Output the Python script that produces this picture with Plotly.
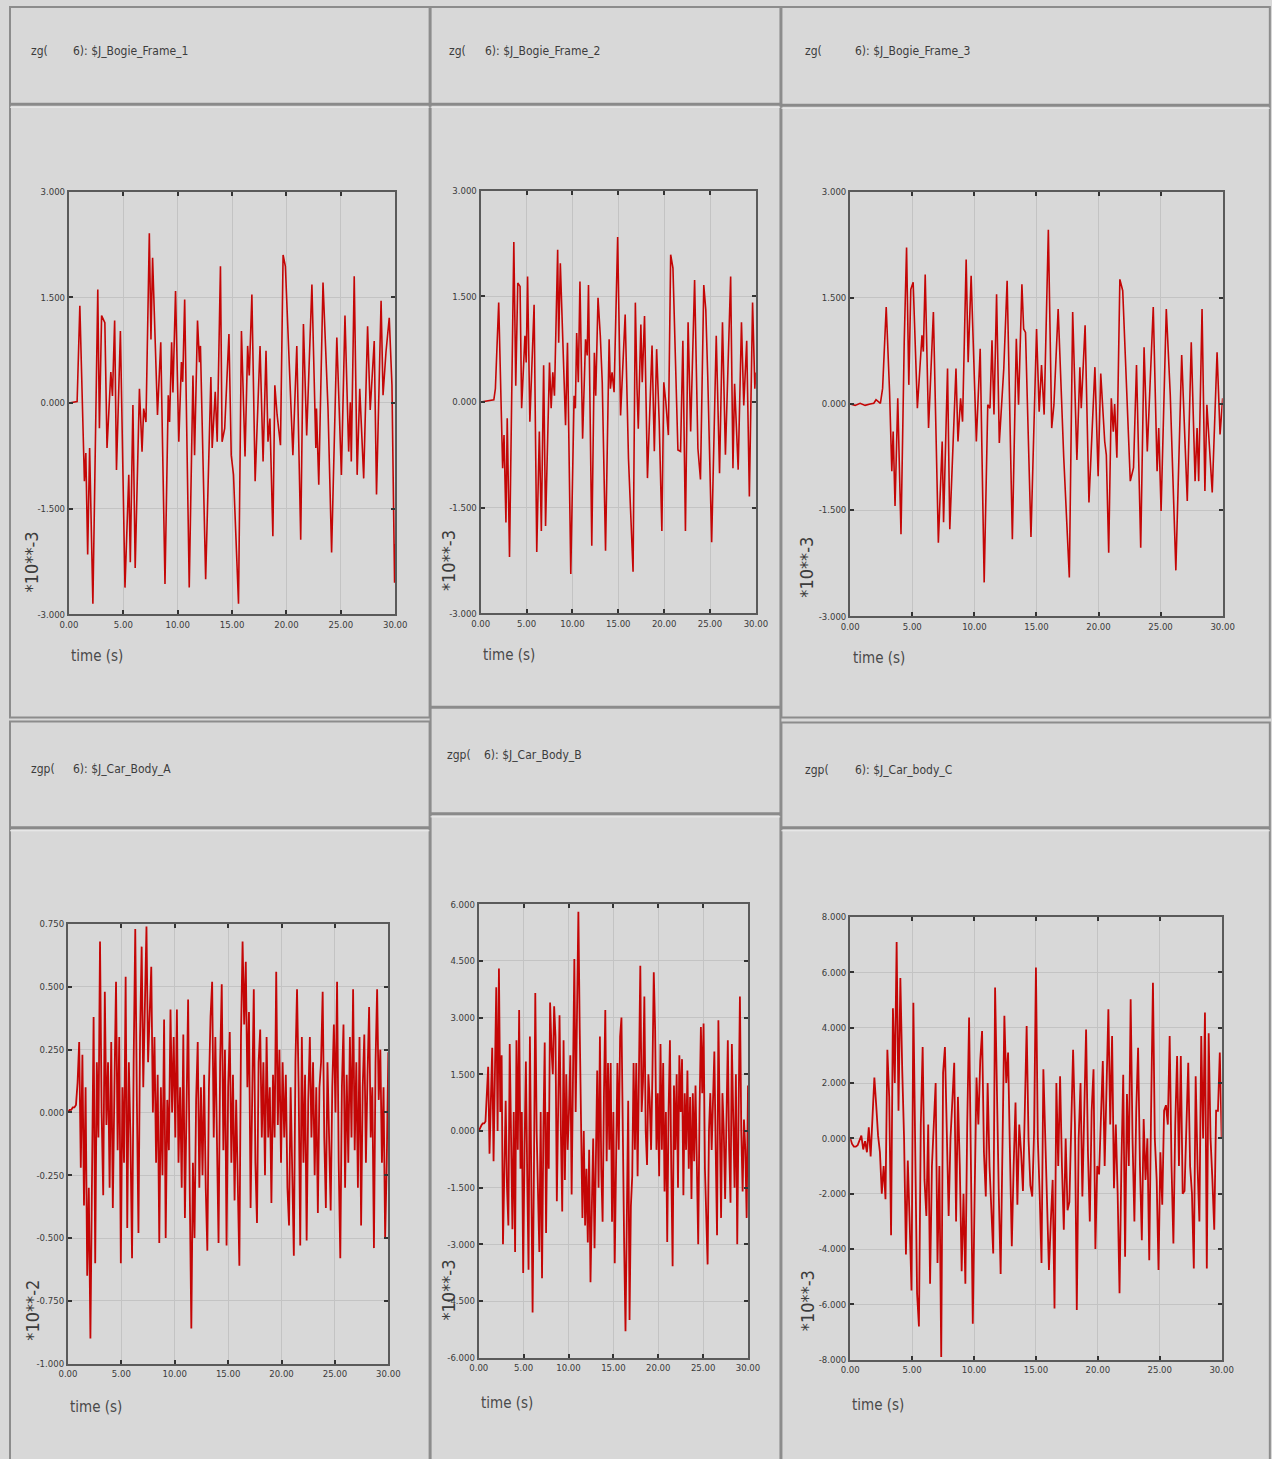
import plotly.graph_objects as go

# The page body keeps an 8 px margin, so the figure is made 16 px smaller
# and every reference pixel position is shifted by that margin.
PAGE_W, PAGE_H = 1288, 1475
OFF = 8
W, H = PAGE_W - 2 * OFF, PAGE_H - 2 * OFF

# ---------------- data ----------------
# Bogie frames: turning points (time s, value *10**-3)
bf1_t = [0.0, 0.75, 1.0, 1.42, 1.55, 1.72, 1.9, 2.2, 2.65, 2.8, 3.0, 3.3, 3.5, 3.85, 4.0, 4.2, 4.37, 4.73, 5.15, 5.5, 5.64, 5.88, 6.09, 6.48, 6.72, 6.87, 7.08, 7.39, 7.54, 7.69, 8.14, 8.44, 8.83, 9.13, 9.25, 9.44, 9.56, 9.8, 10.1, 10.34, 10.46, 10.64, 11.06, 11.4, 11.55, 11.82, 12.0, 12.09, 12.57, 12.81, 13.05, 13.17, 13.45, 13.63, 13.93, 14.08, 14.32, 14.71, 14.92, 15.13, 15.59, 15.86, 16.19, 16.43, 16.58, 16.82, 17.12, 17.57, 17.85, 18.12, 18.3, 18.48, 18.75, 18.93, 19.14, 19.45, 19.69, 19.9, 20.59, 20.95, 21.31, 21.56, 21.86, 22.34, 22.7, 22.76, 22.97, 23.36, 23.82, 24.15, 24.63, 25.05, 25.38, 25.72, 25.87, 25.96, 26.23, 26.5, 26.74, 27.1, 27.46, 27.7, 28.07, 28.28, 28.7, 28.88, 29.15, 29.45, 29.7, 29.94, 30.0]
bf1_v = [0.0, 0.02, 1.38, -1.11, -0.71, -2.15, -0.64, -2.85, 1.61, -0.36, 1.24, 1.14, -0.64, 0.44, 0.1, 1.17, -0.95, 1.02, -2.62, -1.02, -2.26, -0.03, -2.34, 0.2, -0.69, -0.08, -0.27, 2.41, 0.9, 2.06, -0.17, 0.86, -2.57, 0.11, -0.27, 0.86, 0.15, 1.59, -0.55, 0.58, 0.3, 1.47, -2.62, 0.39, -0.74, 1.17, 0.58, 0.81, -2.5, -1.02, 0.37, -0.64, 0.16, -0.55, 1.94, -0.55, -0.36, 0.98, -0.74, -1.02, -2.85, 1.02, -0.76, 0.81, 0.39, 1.54, -1.11, 0.81, -0.83, 0.74, -0.55, -0.22, -1.89, 0.25, -0.17, -0.6, 2.1, 1.94, -0.74, 0.81, -1.94, 1.12, -0.46, 1.68, -0.64, -0.08, -1.16, 1.71, -0.08, -2.12, 0.93, -1.02, 1.24, -0.69, 0.01, -0.83, 1.8, -1.02, 0.2, -1.07, 1.09, -0.1, 0.88, -1.3, 1.45, 0.11, 0.72, 1.21, 0.25, -2.55, -2.0]

bf2_t = [0.0, 1.43, 1.6, 1.96, 2.39, 2.54, 2.75, 2.89, 3.14, 3.61, 3.82, 4.04, 4.29, 4.46, 4.82, 4.96, 5.11, 5.36, 5.82, 6.11, 6.39, 6.61, 6.86, 7.07, 7.5, 7.68, 7.86, 8.04, 8.39, 8.5, 8.68, 9.25, 9.46, 9.82, 10.18, 10.32, 10.46, 10.64, 10.82, 11.11, 11.43, 11.61, 11.75, 12.11, 12.39, 12.54, 12.79, 13.04, 13.25, 13.61, 14.0, 14.14, 14.32, 14.54, 14.93, 15.25, 15.75, 16.11, 16.61, 16.86, 17.04, 17.18, 17.46, 17.61, 17.86, 18.18, 18.68, 18.93, 19.18, 19.46, 19.75, 19.96, 20.18, 20.46, 20.71, 20.96, 21.5, 21.79, 22.04, 22.32, 22.61, 22.89, 23.32, 23.68, 23.96, 24.32, 24.54, 24.75, 25.18, 25.68, 26.04, 26.36, 26.68, 26.89, 27.25, 27.5, 27.68, 28.07, 28.43, 28.68, 29.0, 29.29, 29.64, 29.89, 30.0]
bf2_v = [0.0, 0.03, 0.19, 1.41, -0.94, -0.47, -1.71, -0.23, -2.2, 2.27, 0.23, 1.69, 1.64, -0.09, 0.94, 0.56, 1.78, -0.28, 1.38, -2.13, -0.42, -1.83, 0.52, -1.76, 0.56, -0.09, 0.42, 0.09, 2.16, 0.84, 1.97, -0.33, 0.84, -2.44, 0.09, -0.09, 0.98, 0.28, 1.71, -0.52, 0.89, 0.66, 1.66, -2.04, 0.7, 0.09, 1.48, 0.94, 0.28, -2.11, 0.89, 0.19, 0.42, 0.14, 2.34, -0.19, 1.24, -0.8, -2.41, 1.41, 0.19, -0.38, 1.1, 0.28, 1.22, -1.08, 0.8, -0.7, 0.75, -0.28, -1.83, 0.28, 0.0, -0.47, 2.09, 1.9, -0.68, -0.7, 0.87, -1.83, 1.13, -0.42, 1.73, -0.66, -1.1, 1.66, 1.31, 0.38, -1.99, 0.94, -1.01, 1.13, -0.75, 0.07, 1.78, -0.94, 0.26, -0.96, 1.13, -0.05, 0.87, -1.34, 1.41, 0.19, 0.42]

bf3_t = [0.0, 0.4, 0.8, 1.2, 1.6, 1.9, 2.08, 2.3, 2.43, 2.61, 2.9, 3.17, 3.35, 3.46, 3.61, 3.83, 4.09, 4.35, 4.54, 4.72, 4.88, 5.07, 5.41, 5.78, 5.89, 6.04, 6.31, 6.7, 7.1, 7.41, 7.52, 7.84, 8.02, 8.52, 8.68, 8.89, 9.05, 9.34, 9.5, 9.74, 10.16, 10.47, 10.79, 11.08, 11.26, 11.42, 11.58, 11.79, 12.01, 12.37, 12.64, 13.06, 13.38, 13.56, 13.83, 13.97, 14.12, 14.56, 15.01, 15.22, 15.41, 15.62, 15.96, 16.23, 16.41, 16.75, 17.2, 17.65, 17.92, 18.26, 18.5, 18.61, 18.92, 19.23, 19.71, 19.97, 20.18, 20.5, 20.63, 20.82, 21.03, 21.19, 21.3, 21.48, 21.72, 21.95, 22.56, 22.82, 23.06, 23.4, 23.67, 23.93, 24.2, 24.41, 24.72, 24.85, 25.04, 25.46, 25.78, 26.23, 26.7, 27.15, 27.47, 27.78, 27.94, 28.07, 28.34, 28.57, 28.73, 28.89, 29.16, 29.55, 29.79, 30.0]
bf3_v = [0.0, -0.02, 0.01, -0.02, 0.0, 0.01, 0.06, 0.03, 0.01, 0.22, 1.37, 0.17, -0.95, -0.39, -1.44, 0.08, -1.84, 0.87, 2.21, 0.27, 1.62, 1.72, -0.06, 0.97, 0.74, 1.83, -0.34, 1.3, -1.96, -0.53, -1.67, 0.5, -1.77, 0.5, -0.53, 0.08, -0.25, 2.04, 0.59, 1.81, -0.53, 0.78, -2.52, -0.01, -0.06, 0.9, -0.15, 1.55, -0.55, 0.5, 1.74, -1.91, 0.92, -0.01, 1.69, 1.06, 1.01, -1.88, 1.06, -0.11, 0.55, -0.15, 2.46, -0.34, -0.01, 1.34, -0.76, -2.45, 1.3, -0.79, 0.52, -0.06, 1.11, -1.39, 0.52, -1.02, 0.43, -0.53, -0.72, -2.1, 0.08, -0.39, 0.0, -0.76, 1.76, 1.6, -1.09, -0.9, 0.55, -2.03, 0.8, -0.67, 0.45, 1.37, -0.95, -0.34, -1.51, 1.34, 0.13, -2.35, 0.69, -1.37, 0.87, -1.09, -0.34, -1.09, 1.34, -1.23, -0.01, -0.53, -1.25, 0.73, -0.43, 0.08]

# Car bodies: samples every 0.15 s from 0 to 30 s
cb_a = [0, 0.01, 0.01, 0.02, 0.02, 0.03, 0.12, 0.28, -0.22, 0.23, -0.37, 0.1, -0.65, -0.3, -0.9, -0.2, 0.38, -0.6, 0.2, -0.1,
        0.68, 0.0, -0.33, 0.48, -0.05, 0.2, -0.3, 0.28, -0.38, 0.1,
        0.52, -0.15, 0.3, -0.6, 0.1, -0.2, 0.54, -0.46, 0.2, -0.1,
        -0.58, 0.2, 0.73, 0.05, -0.48, 0.3, 0.66, 0.1, 0.45, 0.74,
        0.2, 0.4, 0.58, 0.0, 0.3, -0.2, 0.15, -0.52, 0.1, -0.25,
        0.37, -0.5, 0.05, -0.15, 0.41, 0.0, 0.3, -0.1, 0.41, -0.2,
        0.1, -0.3, 0.31, -0.42, 0.1, 0.45, -0.3, -0.86, -0.2, -0.5,
        0.05, 0.28, -0.3, 0.1, -0.25, 0.15, -0.3, -0.55, 0.1, 0.38,
        0.52, -0.1, 0.3, -0.2, -0.52, 0.2, 0.51, -0.15, 0.25, -0.53,
        0.1, 0.32, -0.2, 0.15, -0.35, 0.05, -0.3, -0.61, 0.3, 0.68,
        0.35, 0.6, 0.1, 0.4, -0.38, 0.1, 0.49, -0.2, -0.44, 0.2,
        0.33, -0.1, 0.2, -0.25, 0.3, -0.1, 0.1, -0.36, 0.15, -0.1,
        0.56, -0.05, 0.25, -0.2, 0.2, -0.1, 0.15, -0.3, -0.45, 0.1,
        -0.2, -0.57, 0.2, 0.49, 0.1, -0.53, 0.3, -0.2, 0.15, -0.51,
        0.05, 0.3, -0.1, 0.2, -0.25, 0.1, -0.4, 0.1, 0.2, 0.48,
        -0.1, -0.38, 0.2, -0.1, -0.39, 0.1, 0.35, 0.0, 0.52, -0.2,
        -0.58, 0.1, 0.35, -0.3, 0.15, -0.2, 0.3, -0.1, 0.49, -0.15,
        0.2, -0.3, 0.3, -0.45, 0.1, 0.31, -0.2, 0.15, 0.42, -0.1,
        0.1, -0.54, 0.2, 0.49, 0.05, 0.25, -0.2, 0.1, -0.5, -0.2,
        0.24]

cb_b = [0.0, 0.1, 0.15, 0.2, 0.2, 0.25, 1.2, 1.7, -0.6, 1.0,
        2.2, -0.8, 1.5, 3.8, 0.0, 4.3, 0.5, 2.0, -3.0, -0.5,
        0.8, -1.5, -2.5, 2.3, -1.0, -2.6, 0.5, -3.2, 2.4, -0.5,
        3.2, -1.0, 0.5, -3.76, -0.5, 1.84, -1.2, -3.67, 2.5, -0.5,
        -4.8, -1.0, 3.65, 0.0, -2.0, -3.2, 0.5, -3.9, 0.0, 2.34,
        -2.7, 0.5, -1.0, 3.4, 2.2, 1.5, 3.3, 2.5, -1.86, 1.5,
        3.06, 0.0, -2.13, 2.4, -1.3, 1.5, -0.5, 0.5, 2.0, -1.68,
        1.0, 4.55, 0.5, 3.0, 5.8, 2.7, -0.5, -2.3, 0.0, -2.5,
        -1.0, -2.95, -0.5, -4.0, -2.0, -0.2, -3.1, -1.0, 1.6, -1.5,
        2.5, -1.0, -2.4, 1.0, 3.2, -0.8, 1.8, -0.5, 1.8, -2.4,
        0.5, -3.5, -1.0, 1.8, -0.5, 2.5, 3.0, -1.0, -3.0, -5.3,
        -1.5, 0.8, -5.0, -2.0, -1.2, 1.8, -0.5, 1.8, -1.2, 1.0,
        4.37, 0.5, 1.3, 3.56, 0.0, -0.9, 1.5, 0.8, -0.5, 1.5,
        4.2, 2.7, -0.5, 1.0, -1.2, 2.3, -0.5, 1.8, -1.6, 0.5,
        -2.94, 0.5, 2.4, -1.0, -3.58, 1.2, -0.5, 1.5, -1.5, 2.0,
        0.5, 1.9, -1.7, 1.0, -0.5, 1.6, -1.0, 0.9, -1.8, 1.0,
        -0.8, 1.2, -1.5, -3.0, 0.5, 2.75, 1.0, 2.84, -1.0, -2.0,
        -3.53, 0.0, 1.0, -0.5, 1.0, 2.1, -0.5, -2.76, 2.93, 0.0,
        -2.3, 1.0, 0.0, -1.8, 1.0, 2.4, -0.5, -1.9, 2.3, 0.5,
        -1.5, 1.5, -3.0, 0.5, 3.56, 0.0, -1.6, 0.3, -0.5, -2.3,
        1.2]

cb_c = [0.0, -0.2, -0.3, -0.3, -0.25, -0.1, 0.1, -0.4, -0.1, -0.5,
        0.4, -0.65, 0.8, 2.2, 1.2, 0.1, -0.5, -2.0, -1.0, -2.2,
        3.2, 1.5, -3.5, 4.7, 2.0, 7.1, 1.0, 5.8, 2.5, 0.0,
        -4.2, -0.8, -3.0, -5.5, 4.9, -1.0, -5.6, -6.8, 0.5, 3.3,
        -1.5, -2.8, 0.5, -5.25, -1.0, 0.5, 2.0, -4.5, -1.0, -7.9,
        2.37, 3.3, -0.5, -2.8, 0.0, 1.5, 2.73, -3.0, 1.5, -1.0,
        -4.8, -2.0, -5.25, 0.5, 4.37, -1.0, -6.7, -2.0, 2.2, 0.5,
        2.8, 3.88, -0.5, -2.1, 2.0, -1.0, -2.5, -4.16, 5.45, 1.0,
        -2.0, -4.9, 0.0, 4.43, 2.0, 3.1, -0.5, -3.9, -1.0, 1.3,
        -2.4, 0.5, -0.5, -1.9, 1.0, 4.06, 0.0, -1.7, -2.1, 0.2,
        6.18, 0.0, -2.0, -4.5, 2.5, 0.0, -2.5, -4.76, -3.0, -1.5,
        -6.15, 2.0, -1.0, 2.25, -1.0, -3.3, 0.0, -2.6, -2.3, 1.0,
        3.2, 0.5, -6.2, 0.0, 2.0, -2.1, 0.5, 3.94, -0.5, -3.0,
        1.0, 2.5, -4.0, -1.0, -1.3, 1.0, 2.8, -1.0, 1.5, 4.67,
        0.5, 3.7, -1.8, 0.5, -2.0, -5.6, -1.0, 2.3, -4.28, 1.6,
        -1.0, 5.03, 0.0, -3.0, 1.0, 3.28, -1.0, -3.68, 0.7, -1.5,
        0.0, -4.4, 1.0, 5.63, 0.0, -1.5, -4.76, -0.5, -2.4, 1.0,
        1.2, 0.5, 3.7, -1.0, -3.8, 0.5, 2.98, -1.0, 2.98, -2.0,
        -1.9, 0.5, 2.73, -1.0, -2.0, -4.7, 2.25, -1.0, -3.0, 3.7,
        0.0, 4.55, -4.7, 3.8, 0.0, -1.5, -3.3, 1.0, 1.0, 3.1,
        0.0]

x_tickvals = [0, 5, 10, 15, 20, 25, 30]
x_ticktext = ["0.00", "5.00", "10.00", "15.00", "20.00", "25.00", "30.00"]

bf_ytickvals = [-3.0, -1.5, 0.0, 1.5, 3.0]
bf_yticktext = ["-3.000", "-1.500", "0.000", "1.500", "3.000"]
a_ytickvals = [-1.0, -0.75, -0.5, -0.25, 0.0, 0.25, 0.5, 0.75]
a_yticktext = ["-1.000", "-0.750", "-0.500", "-0.250", "0.000", "0.250", "0.500", "0.750"]
b_ytickvals = [-6.0, -4.5, -3.0, -1.5, 0.0, 1.5, 3.0, 4.5, 6.0]
b_yticktext = ["-6.000", "-4.500", "-3.000", "-1.500", "0.000", "1.500", "3.000", "4.500", "6.000"]
c_ytickvals = [-8.0, -6.0, -4.0, -2.0, 0.0, 2.0, 4.0, 6.0, 8.0]
c_yticktext = ["-8.000", "-6.000", "-4.000", "-2.000", "0.000", "2.000", "4.000", "6.000", "8.000"]

prefixes = ["zg(", "zg(", "zg(", "zgp(", "zgp(", "zgp("]
names = ["6): $J_Bogie_Frame_1", "6): $J_Bogie_Frame_2", "6): $J_Bogie_Frame_3",
         "6): $J_Car_Body_A", "6): $J_Car_Body_B", "6): $J_Car_body_C"]
unit_labels = ["*10**-3", "*10**-3", "*10**-3", "*10**-2", "*10**-3", "*10**-3"]


def cb_time(vals):
    n = len(vals)
    return [30.0 * i / (n - 1) for i in range(n)]


series = [
    (bf1_t, bf1_v), (bf2_t, bf2_v), (bf3_t, bf3_v),
    (cb_time(cb_a), cb_a), (cb_time(cb_b), cb_b), (cb_time(cb_c), cb_c),
]
yticks = [(bf_ytickvals, bf_yticktext)] * 3 + [(a_ytickvals, a_yticktext),
                                               (b_ytickvals, b_yticktext),
                                               (c_ytickvals, c_yticktext)]

# ---------------- layout geometry (reference page pixels) ----------------
plot_boxes = [  # x0, x1, y0, y1 (top, bottom)
    (68, 400, 195, 621),
    (487, 767, 194, 620),
    (863, 1242, 195, 623),
    (67, 393, 933, 1376),
    (485, 759, 913, 1370),
    (863, 1241, 926, 1372),
]
panels = [  # x0, x1, top, header bottom, bottom
    (8, 435, 9, 107, 725),
    (436, 792, 9, 107, 714),
    (793, 1290, 9, 108, 725),
    (8, 435, 729, 836, 1480),
    (436, 792, 715, 822, 1480),
    (793, 1290, 730, 836, 1480),
]
header_pos = [  # prefix x, name x, y
    (27, 70, 53), (453, 489, 53), (815, 866, 53),
    (27, 70, 777), (451, 488, 763), (815, 866, 778),
]
unit_pos = [(30, 568), (455, 567), (819, 573), (30, 1322), (454, 1302), (819, 1312)]
time_pos = [(68, 663), (487, 662), (864, 665), (67, 1420), (485, 1416), (863, 1418)]


def fx(p):
    return (p - OFF) / W


def fy(p):
    return 1 - (p - OFF) / H


BG = "#d8d8d8"
RED = "#c40606"
TEXTFONT = "DejaVu Sans Condensed, Liberation Sans Narrow, sans-serif"
TICKFONT = dict(family=TEXTFONT, size=9.5, color="#3a3a3a")

fig = go.Figure()
layout = dict(
    width=W, height=H, margin=dict(l=0, r=0, t=0, b=0),
    paper_bgcolor=BG, plot_bgcolor=BG, showlegend=False,
)

for i, ((tt, vv), (yv, yt), box) in enumerate(zip(series, yticks, plot_boxes), start=1):
    sfx = "" if i == 1 else str(i)
    n = min(len(tt), len(vv))
    fig.add_trace(go.Scatter(
        x=tt[:n], y=vv[:n], mode="lines",
        line=dict(color=RED, width=1.6 if i <= 3 else 1.8),
        xaxis="x" + sfx, yaxis="y" + sfx, hoverinfo="skip",
    ))
    x0, x1, y0, y1 = box
    common = dict(
        showgrid=True, gridcolor="#c3c3c3", gridwidth=1,
        showline=True, linecolor="#5a5a5a", linewidth=2, mirror="ticks",
        ticks="inside", ticklen=4, tickcolor="#333333", tickwidth=1.5,
        zeroline=False, tickfont=TICKFONT, fixedrange=True,
    )
    layout["xaxis" + sfx] = dict(
        domain=[fx(x0), fx(x1)], range=[0, 30], anchor="y" + sfx,
        tickmode="array", tickvals=x_tickvals, ticktext=x_ticktext, **common)
    layout["yaxis" + sfx] = dict(
        domain=[fy(y1), fy(y0)], range=[yv[0], yv[-1]], anchor="x" + sfx,
        tickmode="array", tickvals=yv, ticktext=yt, **common)

fig.update_layout(**layout)

shapes = []
for (px0, px1, top, hb, bot) in panels:
    shapes.append(dict(type="rect", xref="paper", yref="paper",
                       x0=fx(px0), x1=fx(px1), y0=fy(bot), y1=fy(top),
                       line=dict(color="#8c8c8c", width=2), layer="below"))
    shapes.append(dict(type="line", xref="paper", yref="paper",
                       x0=fx(px0), x1=fx(px1), y0=fy(hb), y1=fy(hb),
                       line=dict(color="#8a8a8a", width=3), layer="below"))
    shapes.append(dict(type="line", xref="paper", yref="paper",
                       x0=fx(px0), x1=fx(px1), y0=fy(hb + 3), y1=fy(hb + 3),
                       line=dict(color="#ececec", width=1), layer="below"))

annotations = []
for k in range(6):
    pxp, pxn, py = header_pos[k]
    annotations.append(dict(x=fx(pxp), y=fy(py), xref="paper", yref="paper", text=prefixes[k],
                            showarrow=False, xanchor="left", yanchor="middle",
                            font=dict(family=TEXTFONT, size=12, color="#3c3c3c")))
    annotations.append(dict(x=fx(pxn), y=fy(py), xref="paper", yref="paper", text=names[k],
                            showarrow=False, xanchor="left", yanchor="middle",
                            font=dict(family=TEXTFONT, size=12, color="#3c3c3c")))
    ux, uy = unit_pos[k]
    annotations.append(dict(x=fx(ux), y=fy(uy), xref="paper", yref="paper", text=unit_labels[k],
                            showarrow=False, xanchor="center", yanchor="middle", textangle=-90,
                            font=dict(family=TEXTFONT, size=18, color="#3c3c3c")))
    tx, ty = time_pos[k]
    annotations.append(dict(x=fx(tx), y=fy(ty), xref="paper", yref="paper", text="time (s)",
                            showarrow=False, xanchor="left", yanchor="middle",
                            font=dict(family=TEXTFONT, size=15, color="#4a4a4a")))

fig.update_layout(shapes=shapes, annotations=annotations)
fig.write_html("out.html")
